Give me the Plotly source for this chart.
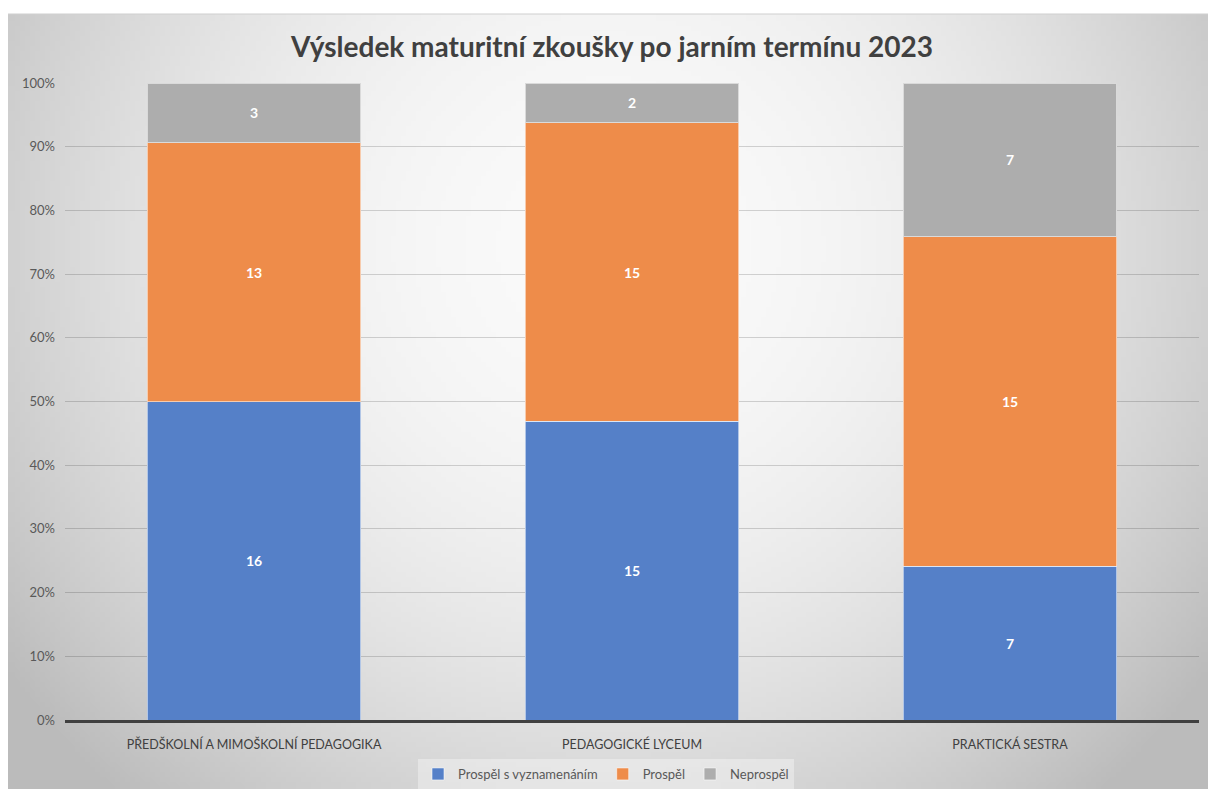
import base64, struct, zlib
import numpy as np
import plotly.graph_objects as go

# ---- data ----
categories = ["PŘEDŠKOLNÍ A MIMOŠKOLNÍ PEDAGOGIKA", "PEDAGOGICKÉ LYCEUM", "PRAKTICKÁ SESTRA"]
series_names = ["Prospěl s vyznamenáním", "Prospěl", "Neprospěl"]
prospel_s_vyznamenanim = [16, 15, 7]
prospel = [13, 15, 15]
neprospel = [3, 2, 7]
series_values = [prospel_s_vyznamenanim, prospel, neprospel]
series_colors = ["#5580C8", "#EE8C4A", "#ADADAD"]
title_text = "Výsledek maturitní zkoušky po jarním termínu 2023"

totals = np.sum(np.array(series_values, dtype=float), axis=0)


def gradient_png(w, h):
    rows = bytearray()
    for j in range(h):
        rows.append(0)
        y = j / (h - 1)
        for i in range(w):
            x = i / (w - 1)
            r = np.hypot((x - 0.5) / 0.55, (y - 0.3) / 0.85)
            r = min(r, 1.12)
            v = int(round(250 - 50 * r ** 2))
            rows += bytes((v, v, v))
    raw = zlib.compress(bytes(rows), 9)

    def chunk(t, d):
        return struct.pack(">I", len(d)) + t + d + struct.pack(">I", zlib.crc32(t + d) & 0xFFFFFFFF)

    png = (b"\x89PNG\r\n\x1a\n"
           + chunk(b"IHDR", struct.pack(">IIBBBBB", w, h, 8, 2, 0, 0, 0))
           + chunk(b"IDAT", raw)
           + chunk(b"IEND", b""))
    return "data:image/png;base64," + base64.b64encode(png).decode()


fig = go.Figure()
for name, vals, col in zip(series_names, series_values, series_colors):
    fig.add_trace(go.Bar(
        name=name,
        x=categories,
        y=np.array(vals) / totals,
        text=[str(v) for v in vals],
        textposition="inside",
        insidetextanchor="middle",
        textangle=0,
        textfont=dict(family="Lato", size=14, color="white", weight="bold"),
        marker=dict(color=col, line=dict(color="rgba(255,255,255,0.55)", width=1)),
    ))

W, H = 1208, 789
L, R, T, B = 65, 9, 83, 69
pw, ph = W - L - R, H - T - B
box_left, box_top = 8, 14

fig.update_layout(
    width=W, height=H,
    margin=dict(l=L, r=R, t=T, b=B, autoexpand=False),
    barmode="stack",
    bargap=0.435,
    paper_bgcolor="white",
    plot_bgcolor="rgba(0,0,0,0)",
    font=dict(family="Lato", size=13, color="#595959"),
    title=dict(text=title_text, x=612 / W, xanchor="center", y=1 - 47 / H, yanchor="middle",
               font=dict(family="Lato", size=28, color="#404040", weight="bold")),
    legend=dict(orientation="h", x=(606 - L) / pw, xanchor="center", y=(H - B - 774) / ph, yanchor="middle",
                bgcolor="rgba(255,255,255,0.35)", font=dict(family="Lato", size=13, color="#595959"),
                itemwidth=30, traceorder="normal"),
    xaxis=dict(showline=True, linecolor="#404040", linewidth=2.5, ticks="", showgrid=False,
               tickfont=dict(family="Lato", size=12.5, color="#404040"), ticklabelstandoff=11,
               automargin=False),
    yaxis=dict(range=[0, 1], dtick=0.1, tickformat=".0%", showgrid=True,
               gridcolor="rgba(0,0,0,0.16)", gridwidth=1, zeroline=False,
               tickfont=dict(family="Lato", size=13, color="#595959"), ticklabelstandoff=9,
               automargin=False),
    images=[dict(source=gradient_png(240, 155), xref="paper", yref="paper",
                 x=(box_left - L) / pw, y=(H - B - box_top) / ph,
                 sizex=(W - box_left) / pw, sizey=(H - box_top) / ph,
                 xanchor="left", yanchor="top", sizing="stretch", layer="below")],
    shapes=[dict(type="line", xref="paper", yref="paper", x0=(box_left - L) / pw, x1=(W - L) / pw,
                 y0=(H - B - box_top) / ph, y1=(H - B - box_top) / ph, line=dict(color="#cfcfcf", width=1))],
    showlegend=True,
)

fig.write_html("out.html", config={"displayModeBar": False},
               post_script="document.body.style.margin='0';document.body.style.overflow='hidden';")
